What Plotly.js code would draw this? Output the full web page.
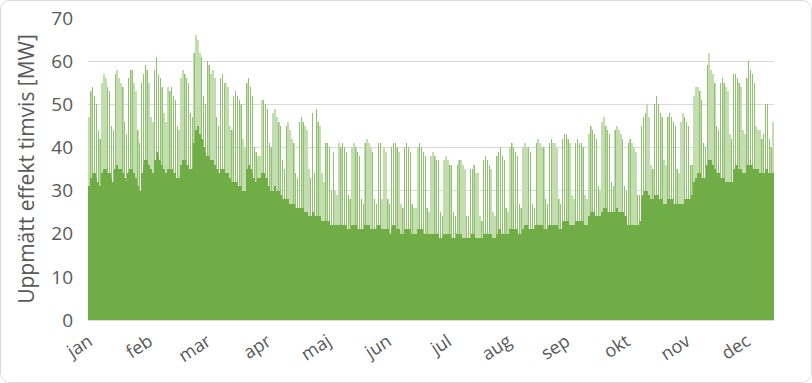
<!DOCTYPE html>
<html>
<head>
<meta charset="utf-8">
<script src="https://cdn.plot.ly/plotly-3.0.1.min.js"></script>
<style>
  html, body { margin: 0; padding: 0; background: #fff; }
  #chart { width: 810px; height: 381px; border: 1px solid #d9d9d9; border-radius: 10px; overflow: hidden; }
</style>
</head>
<body>
<div id="chart"></div>
<script>
// Daily peak of hourly measured power [MW], one value per day (weeks start Monday)
const dailyPeak = [
  47,53,54,52,50,44,42,
  55,57,56,54,53,45,44,
  57,58,56,55,54,46,43,
  56,58,58,55,53,44,41,
  55,57,59,58,55,47,46,
  58,61,57,56,54,48,46,
  54,53,54,52,51,45,44,
  56,58,57,56,55,48,47,
  62,66,65,62,61,52,50,
  60,59,57,58,56,47,45,
  56,57,55,55,54,45,44,
  52,53,52,51,50,42,40,
  55,56,54,52,40,39,38,
  38,51,51,50,49,41,40,
  48,49,47,46,45,37,35,
  45,46,44,42,41,34,33,
  46,47,46,45,44,35,33,
  48,34,49,46,45,34,32,
  41,41,40,30,39,30,29,
  41,40,41,40,39,29,28,
  40,41,40,39,38,28,27,
  41,42,41,40,39,28,27,
  41,41,28,40,39,28,27,
  40,41,41,40,39,27,26,
  40,41,40,39,27,26,26,
  40,41,40,39,38,26,25,
  38,39,38,37,37,25,24,
  37,38,37,36,36,25,24,
  36,37,37,36,35,24,24,
  35,35,36,34,34,24,23,
  37,38,37,36,35,25,24,
  38,39,40,38,37,26,25,
  40,41,40,39,38,27,26,
  40,41,40,40,39,27,26,
  41,42,41,40,40,28,27,
  41,42,41,41,40,28,27,
  42,43,43,42,41,29,28,
  41,42,41,41,40,29,28,
  43,45,44,43,42,31,30,
  46,47,45,44,43,32,31,
  44,45,44,43,42,31,30,
  41,42,41,40,39,29,29,
  45,47,48,50,47,36,35,
  50,52,50,48,47,37,36,
  47,48,47,46,45,35,34,
  46,48,47,46,45,36,36,
  52,54,54,53,51,41,40,
  59,62,58,57,55,45,44,
  55,56,55,54,53,43,42,
  57,57,56,55,54,44,43,
  56,60,58,57,55,45,44,
  44,42,43,50,50,42,40,
  46
];
// Daily base level (night-time load) [MW]
const dailyBase = [
  31,33,34,34,33,32,31,
  34,35,35,34,34,33,32,
  35,36,35,35,34,33,32,
  34,35,35,34,33,31,30,
  34,36,37,37,36,35,34,
  37,39,38,37,36,35,34,
  35,35,35,34,34,33,33,
  36,37,37,36,36,35,35,
  41,44,45,43,42,40,39,
  38,38,37,37,36,35,34,
  35,35,35,34,34,33,32,
  32,32,32,31,31,30,30,
  35,36,35,34,33,32,33,
  33,34,34,33,33,31,30,
  30,31,30,30,29,28,28,
  28,28,27,27,27,26,26,
  26,26,26,25,25,24,24,
  25,24,24,24,24,23,23,
  23,23,23,22,22,22,22,
  22,22,22,22,22,21,21,
  22,22,22,21,21,21,21,
  22,22,22,21,21,21,21,
  22,22,21,21,21,21,20,
  21,22,22,21,21,20,20,
  21,21,21,21,20,20,20,
  21,21,21,20,20,20,20,
  20,20,20,20,20,19,19,
  20,20,20,20,19,19,19,
  20,20,20,19,19,19,19,
  19,20,20,19,19,19,19,
  20,20,20,20,20,19,19,
  20,21,21,20,20,20,20,
  21,21,21,21,21,20,20,
  21,22,22,21,21,21,21,
  22,22,22,22,21,21,21,
  22,22,22,22,22,21,21,
  23,23,23,23,22,22,22,
  23,23,23,23,23,22,22,
  24,25,25,25,24,24,24,
  25,26,26,25,25,25,25,
  25,26,25,25,25,24,24,
  22,22,22,22,22,22,23,
  28,29,30,30,29,28,28,
  29,29,29,28,28,27,27,
  28,28,28,27,27,27,27,
  27,27,28,28,28,28,29,
  32,33,34,34,33,33,33,
  36,37,37,36,35,34,34,
  33,33,33,32,32,32,32,
  35,36,36,35,35,34,34,
  36,36,37,36,35,35,35,
  34,34,34,35,35,34,34,
  34
];
const monthLabels = ['jan','feb','mar','apr','maj','jun','jul','aug','sep','okt','nov','dec'];
const monthTickDays = [0,32,63,95,127,159,191,223,254,286,318,350];
const yTicks = [0,10,20,30,40,50,60,70];

const days = dailyPeak.map((_, i) => i);
const GREEN = '#70AD47';
const FONT = '"Open Sans", "DejaVu Sans", sans-serif';

const traces = [
  { type: 'bar', x: days, y: dailyPeak, width: 0.8, marker: { color: '#c3ddb0', line: { width: 0 } }, hoverinfo: 'skip' },
  { type: 'bar', x: days, y: dailyPeak, width: 0.35, marker: { color: '#8fc26c', line: { width: 0 } }, hoverinfo: 'skip' },
  { type: 'bar', x: days, y: dailyBase, width: 1, marker: { color: GREEN, line: { width: 0 } }, hoverinfo: 'skip' }
];

const layout = {
  width: 810, height: 381,
  margin: { l: 87, r: 37, t: 17, b: 62 },
  paper_bgcolor: '#ffffff', plot_bgcolor: '#ffffff',
  barmode: 'overlay', bargap: 0,
  showlegend: false,
  font: { family: FONT, color: '#595959' },
  xaxis: {
    range: [-0.5, 364.5],
    tickmode: 'array', tickvals: monthTickDays, ticktext: monthLabels,
    tickangle: -33, tickfont: { size: 18, color: '#595959', family: FONT },
    showgrid: false, zeroline: false,
    showline: true, linecolor: '#d9d9d9', linewidth: 1,
    ticks: 'outside', ticklen: 3, tickcolor: 'rgba(0,0,0,0)', fixedrange: true
  },
  yaxis: {
    range: [0, 70],
    tickmode: 'array', tickvals: yTicks,
    tickfont: { size: 19, color: '#595959', family: FONT },
    showgrid: true, gridcolor: '#d9d9d9', gridwidth: 1,
    zeroline: false, showline: false,
    ticklabelstandoff: 14,
    title: { text: 'Uppmätt effekt timvis [MW]', font: { size: 21, color: '#595959', family: FONT }, standoff: 10 },
    fixedrange: true
  }
};

Plotly.newPlot('chart', traces, layout, { displayModeBar: false, staticPlot: true });
</script>
</body>
</html>
